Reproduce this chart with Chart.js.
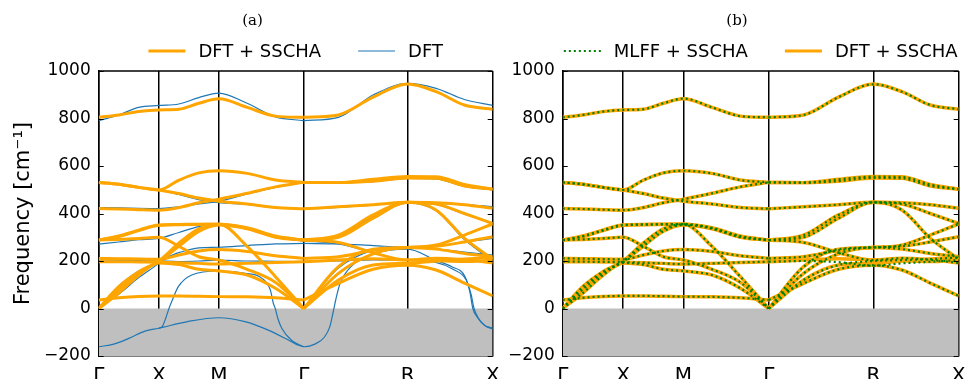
<!DOCTYPE html>
<html>
<head>
<meta charset="utf-8">
<script src="https://cdn.jsdelivr.net/npm/chart.js@4.4.1/dist/chart.umd.min.js"></script>
<style>
  body { margin: 0; background: #fff; }
  #wrap { position: relative; width: 965px; height: 379px; }
  canvas { position: absolute; top: 0; }
</style>
</head>
<body>
<div id="wrap">
  <canvas id="chartA" width="500" height="379" style="left:0"></canvas>
  <canvas id="chartB" width="465" height="379" style="left:500px"></canvas>
</div>
<script>
// path through the zone: Γ - X - M - Γ - R - X
const kTicks = [0, 0.5, 1.0, 1.7071, 2.5731, 3.2802];
const kLabels = ['Γ', 'X', 'M', 'Γ', 'R', 'X'];
const kGrid = [0, 0.1667, 0.3333, 0.5, 0.6667, 0.8333, 1.0, 1.2357, 1.4714, 1.7071, 1.9958, 2.2844, 2.5731, 2.8088, 3.0445, 3.2802];
const yTicks = [-200, 0, 200, 400, 600, 800, 1000];
const gammaMid = 9; // index of the second Γ in kGrid

// DFT + SSCHA (orange), values on kGrid
const ss1  = [805, 815, 829, 836, 839, 864, 883, 847, 810, 805, 815, 890, 945, 913, 857, 839];
const ss2  = [531, 523, 510, 499, 540, 571, 580, 569, 541, 531, 530, 544, 556, 555, 522, 502];
const ss3  = [531, 523, 510, 499, 484, 465, 452, 440, 425, 420, 428, 437, 447, 445, 437, 422];
const ss4  = [421, 419, 416, 414, 425, 445, 460, 485, 512, 531, 530, 536, 550, 548, 516, 502];
const ss5  = [288, 305, 330, 352, 354, 355, 355, 338, 302, 288, 309, 394, 447, 415, 296, 207];
const ss6  = [288, 303, 328, 350, 353, 354, 355, 340, 305, 288, 300, 380, 447, 440, 400, 358];
const ss7  = [288, 291, 295, 300, 262, 218, 204, 165, 110, 0, 148, 230, 257, 250, 232, 218];
const ss8  = [211, 210, 208, 207, 225, 242, 248, 240, 222, 211, 218, 245, 257, 262, 280, 302];
const ss9  = [197, 197, 196, 195, 193, 190, 187, 190, 194, 197, 204, 210, 204, 201, 198, 204];
const ss10 = [36, 45, 51, 53, 53, 52, 50, 49, 45, 36, 106, 165, 182, 162, 107, 53];
const ss11 = [0, 92, 155, 200, 275, 335, 355, 262, 134, 0, 176, 250, 257, 267, 309, 356];
const ss12 = [0, 65, 140, 192, 185, 165, 158, 141, 85, 0, 120, 183, 190, 200, 208, 215];
const ss13 = [0, 80, 150, 197, 262, 325, 352, 336, 300, 288, 278, 235, 204, 212, 205, 192];
const sschaBands = [ss1, ss2, ss3, ss4, ss5, ss6, ss7, ss8, ss9, ss10, ss11, ss12, ss13];

// MLFF + SSCHA (green dotted), values on kGrid
const ml1  = [805, 815, 829, 836, 839, 864, 884, 847, 810, 805, 815, 890, 944, 913, 857, 839];
const ml2  = [531, 523, 510, 499, 540, 571, 580, 569, 541, 531, 530, 544, 555, 554, 522, 502];
const ml3  = [531, 523, 510, 499, 484, 465, 452, 440, 425, 420, 428, 437, 447, 445, 437, 422];
const ml4  = [421, 419, 416, 414, 425, 445, 460, 485, 512, 531, 530, 536, 550, 548, 516, 502];
const ml5  = [288, 305, 330, 352, 354, 355, 355, 338, 302, 288, 309, 394, 447, 415, 296, 207];
const ml6  = [288, 303, 328, 350, 353, 354, 355, 340, 305, 288, 300, 380, 447, 440, 400, 358];
const ml7  = [288, 291, 295, 300, 262, 218, 204, 165, 110, 0, 148, 230, 257, 250, 232, 218];
const ml8  = [211, 210, 208, 207, 225, 242, 248, 240, 222, 211, 218, 245, 258, 262, 280, 302];
const ml9  = [197, 197, 196, 195, 193, 190, 187, 190, 194, 197, 200, 195, 180, 190, 197, 204];
const ml10 = [36, 45, 51, 53, 53, 52, 50, 49, 45, 36, 106, 165, 182, 162, 107, 53];
const ml11 = [0, 92, 155, 200, 275, 335, 355, 262, 134, 0, 176, 250, 257, 267, 309, 356];
const ml12 = [0, 65, 140, 192, 185, 165, 158, 141, 85, 0, 120, 183, 200, 204, 208, 215];
const ml13 = [0, 80, 150, 197, 262, 325, 352, 336, 300, 288, 278, 235, 204, 212, 205, 192];
const mlffBands = [ml1, ml2, ml3, ml4, ml5, ml6, ml7, ml8, ml9, ml10, ml11, ml12, ml13];

// harmonic DFT (blue), values on kGrid
const dft1  = [791, 815, 847, 855, 861, 888, 907, 864, 807, 791, 805, 899, 948, 927, 880, 855];
const dft2  = [531, 523, 510, 499, 540, 571, 580, 569, 541, 531, 530, 542, 552, 548, 520, 500];
const dft3  = [531, 523, 510, 499, 480, 458, 446, 438, 425, 421, 426, 435, 445, 443, 438, 429];
const dft4  = [425, 424, 422, 421, 428, 440, 452, 482, 510, 531, 530, 534, 548, 546, 514, 500];
const dft5  = [271, 280, 290, 295, 320, 345, 355, 338, 300, 285, 305, 385, 445, 412, 290, 200];
const dft6  = [288, 303, 328, 350, 353, 354, 355, 340, 305, 288, 300, 378, 445, 438, 398, 360];
const dft7  = [211, 210, 208, 207, 235, 255, 258, 265, 272, 274, 272, 265, 258, 262, 280, 295];
const dft8  = [205, 204, 202, 200, 198, 200, 204, 200, 199, 197, 200, 205, 204, 200, 200, 198];
const dft9  = [0, 95, 158, 200, 275, 335, 355, 262, 134, 0, 170, 245, 258, 250, 238, 225];
const dft10 = [0, 60, 130, 190, 262, 325, 352, 336, 300, 285, 272, 235, 204, 210, 205, 195];
const dftBands = [dft1, dft2, dft3, dft4, dft5, dft6, dft7, dft8, dft9, dft10];

// unstable DFT branches, with their own k samples
const soft1K = [0, 0.125, 0.25, 0.385, 0.5, 0.74, 1.0, 1.218, 1.412, 1.579, 1.65, 1.7071, 1.8, 1.88, 1.925, 1.95, 1.975, 2.01, 2.1, 2.3, 2.5731, 2.8, 2.94, 3.05, 3.09, 3.115, 3.15, 3.21, 3.2802];
const soft1F = [-161, -150, -126, -95, -83, -55, -39, -55, -91, -133, -152, -161, -150, -120, -75, -20, 40, 106, 176, 232, 250, 204, 176, 134, 70, 0, -35, -70, -83];
const soft2K = [0.5, 0.53, 0.558, 0.585, 0.613, 0.663, 0.774, 1.0, 1.221, 1.36, 1.429, 1.455, 1.47, 1.49, 1.524, 1.607, 1.7071];
const soft2F = [-83, -75, -41, 0, 36, 92, 141, 158, 148, 127, 78, 20, 0, -40, -83, -135, -161];
const soft3K = [2.5731, 2.8, 2.95, 3.06, 3.1, 3.125, 3.16, 3.22, 3.2802];
const soft3F = [204, 195, 165, 120, 60, 0, -40, -74, -86];

const kMax = kTicks[kTicks.length - 1];
const ORANGE = '#ffa500', BLUE = '#1f77b4', GREEN = '#008000', GREY = '#bfbfbf';

Chart.defaults.font.family = '"DejaVu Sans", sans-serif';
Chart.defaults.color = '#000';

function onGrid(band, from, to) {
    const pts = [];
    for (let i = from; i <= to; i++) pts.push({ x: kGrid[i], y: band[i] });
    return pts;
}
function onPath(ks, fs) {
    return ks.map((k, i) => ({ x: k, y: fs[i] }));
}

const lineBase = { pointRadius: 0, pointHoverRadius: 0, fill: false, cubicInterpolationMode: 'monotone' };

// each band is drawn in two pieces so the acoustic branches keep their kink at the middle Γ
function addBands(list, bands, style) {
    bands.forEach(b => {
        list.push({ ...lineBase, ...style, data: onGrid(b, 0, gammaMid) });
        list.push({ ...lineBase, ...style, data: onGrid(b, gammaMid, kGrid.length - 1) });
    });
}

function negativeZone() {
    return {
        data: [{ x: 0, y: 0 }, { x: kMax, y: 0 }],
        borderWidth: 0, pointRadius: 0, fill: 'start',
        backgroundColor: GREY, order: 10
    };
}

// frame, inward ticks, panel title and legend
const framePlugin = {
    id: 'frame',
    afterDraw(chart, args, opts) {
        const { ctx, chartArea: a, scales } = chart;
        ctx.save();
        ctx.strokeStyle = '#000';
        ctx.lineWidth = 1.5;
        ctx.beginPath();
        ctx.moveTo(a.left, a.top);
        ctx.lineTo(a.right, a.top);
        ctx.stroke();

        ctx.lineWidth = 1.2;
        yTicks.forEach(v => {
            const y = Math.round(scales.y.getPixelForValue(v)) + 0.5;
            ctx.beginPath();
            ctx.moveTo(a.left, y); ctx.lineTo(a.left + 5, y);
            ctx.moveTo(a.right - 5, y); ctx.lineTo(a.right, y);
            ctx.stroke();
        });

        ctx.fillStyle = '#000';
        ctx.textAlign = 'center';
        ctx.textBaseline = 'middle';
        ctx.font = '15px "DejaVu Serif"';
        ctx.fillText(opts.title, opts.titleX, 21);

        ctx.font = '18px "DejaVu Sans"';
        const handle = 37, pad = 13, gap = 37;
        const widths = opts.items.map(it => handle + pad + ctx.measureText(it.text).width);
        const total = widths.reduce((s, w) => s + w, 0) + gap * (widths.length - 1);
        let x = (a.left + a.right) / 2 - total / 2;
        const y = 51;
        ctx.textAlign = 'left';
        opts.items.forEach((it, i) => {
            ctx.strokeStyle = it.color;
            ctx.lineWidth = it.width;
            ctx.setLineDash(it.dash || []);
            ctx.beginPath();
            ctx.moveTo(x, y); ctx.lineTo(x + handle, y);
            ctx.stroke();
            ctx.setLineDash([]);
            ctx.fillText(it.text, x + handle + pad, y + 1);
            x += widths[i] + gap;
        });
        ctx.restore();
    }
};

function makeOptions(axisWidth, rightPad, withTitle, title, titleX, items) {
    return {
        responsive: false,
        animation: false,
        layout: { padding: { top: 71, right: rightPad, bottom: 0, left: 0 } },
        plugins: {
            legend: { display: false },
            tooltip: { enabled: false },
            frame: { title: title, titleX: titleX, items: items }
        },
        scales: {
            x: {
                type: 'linear', min: 0, max: kMax, z: 1,
                afterBuildTicks: s => { s.ticks = kTicks.map(v => ({ value: v })); },
                afterFit: s => { s.height = 23; s.paddingLeft = 0; s.paddingRight = 0; },
                ticks: {
                    autoSkip: false, maxRotation: 0, padding: 8,
                    font: { size: 20 }, color: '#000',
                    callback: (v, i) => kLabels[i]
                },
                grid: { color: '#000', lineWidth: 1.5, drawTicks: false },
                border: { color: '#000', width: 1.5 }
            },
            y: {
                min: -200, max: 1000,
                afterBuildTicks: s => { s.ticks = yTicks.map(v => ({ value: v })); },
                afterFit: s => { s.width = axisWidth; s.paddingTop = 0; s.paddingBottom = 0; },
                ticks: {
                    padding: 8, font: { size: 17 }, color: '#000',
                    callback: v => v < 0 ? '\u2212' + (-v) : '' + v
                },
                grid: { drawOnChartArea: false, drawTicks: false },
                border: { color: '#000', width: 1.5 },
                title: {
                    display: withTitle, text: 'Frequency [cm\u207B\u00B9]',
                    font: { size: 21 }, color: '#000', padding: { top: 11, bottom: 0 }
                }
            }
        }
    };
}

// panel (a): DFT + SSCHA vs harmonic DFT
const setA = [negativeZone()];
addBands(setA, sschaBands, { borderColor: ORANGE, borderWidth: 3, order: 3 });
addBands(setA, dftBands, { borderColor: BLUE, borderWidth: 1.2, order: 5 });
[[soft1K, soft1F], [soft2K, soft2F], [soft3K, soft3F]].forEach(([ks, fs]) =>
    setA.push({ ...lineBase, data: onPath(ks, fs), borderColor: BLUE, borderWidth: 1.2, order: 5 }));

new Chart(document.getElementById('chartA'), {
    type: 'line',
    data: { datasets: setA },
    options: makeOptions(98.7, 7.3, true, '(a)', 252.5, [
        { text: 'DFT + SSCHA', color: ORANGE, width: 3 },
        { text: 'DFT', color: BLUE, width: 1.2 }
    ]),
    plugins: [framePlugin]
});

// panel (b): MLFF + SSCHA vs DFT + SSCHA
const setB = [negativeZone()];
addBands(setB, sschaBands, { borderColor: ORANGE, borderWidth: 3.5, order: 3 });
addBands(setB, mlffBands, { borderColor: GREEN, borderWidth: 2.2, borderDash: [2, 3], order: 1 });

new Chart(document.getElementById('chartB'), {
    type: 'line',
    data: { datasets: setB },
    options: makeOptions(62.7, 6.3, false, '(b)', 237, [
        { text: 'MLFF + SSCHA', color: GREEN, width: 2.2, dash: [2, 3] },
        { text: 'DFT + SSCHA', color: ORANGE, width: 3 }
    ]),
    plugins: [framePlugin]
});
</script>
</body>
</html>
